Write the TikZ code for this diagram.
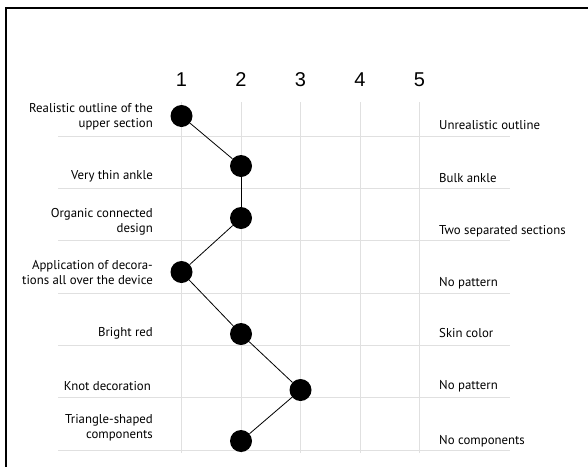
\documentclass[tikz,border=0pt]{standalone}
\usepackage{fontspec}
\setmainfont{PT Sans}
\newfontfamily\numfont{Liberation Sans}
\usetikzlibrary{positioning}
\tikzset{
  rating/.style={circle, fill=black, inner sep=0pt, minimum size=22pt},
  leftLabel/.style={anchor=east, align=right, inner sep=0pt, font=\fontsize{12.8}{15}\selectfont},
  rightLabel/.style={anchor=west, align=left, inner sep=0pt, font=\fontsize{12.8}{15}\selectfont},
  scaleNum/.style={inner sep=0pt, font=\numfont\fontsize{20}{20}\selectfont},
  gridLine/.style={draw=black!12, line width=1pt},
  profile/.style={draw=black, line width=0.8pt}
}

\begin{document}
\begin{tikzpicture}[x=1pt, y=-1pt]
  \useasboundingbox (0,0) rectangle (588,466);
  \clip (0,0) rectangle (588,466);
  \draw[line width=2pt] (6,8) rectangle (600,480);
  % grid
  \foreach \y in {136,188,240,293,345,397,450}
    \draw[gridLine] (58,\y) -- (510,\y);
  \foreach \c in {1,...,5} {
    \draw[gridLine] ({181.5+59.5*(\c-1)},102) -- ({181.5+59.5*(\c-1)},453);
    \node[scaleNum] (num\c) at ({181.5+59.5*(\c-1)},80) {\c};
  }
  % labels
  \node[leftLabel] (l1) at (153,117) {Realistic outline of the\\upper section};
  \node[leftLabel] (l2) at (153,176) {Very thin ankle};
  \node[leftLabel] (l3) at (153,222) {Organic connected\\design};
  \node[leftLabel] (l4) at (153,273) {Application of decora-\\tions all over the device};
  \node[leftLabel] (l5) at (153,333) {Bright red};
  \node[leftLabel] (l6) at (151,386) {Knot decoration};
  \node[leftLabel] (l7) at (153,428) {Triangle-shaped\\components};
  \node[rightLabel] (r1) at (439,125) {Unrealistic outline};
  \node[rightLabel] (r2) at (439,178) {Bulk ankle};
  \node[rightLabel] (r3) at (439,231) {Two separated sections};
  \node[rightLabel] (r4) at (439,283) {No pattern};
  \node[rightLabel] (r5) at (439,333) {Skin color};
  \node[rightLabel] (r6) at (439,386) {No pattern};
  \node[rightLabel] (r7) at (439,441) {No components};
  % ratings
  \foreach \i/\c/\y in {1/1/116, 2/2/166, 3/2/218, 4/1/272, 5/2/334, 6/3/390, 7/2/441}
    \node[rating] (d\i) at ({181.5+59.5*(\c-1)},\y) {};
  \foreach \i [remember=\i as \j (initially 1)] in {2,...,7}
    \draw[profile] (d\j) -- (d\i);
\end{tikzpicture}
\end{document}
